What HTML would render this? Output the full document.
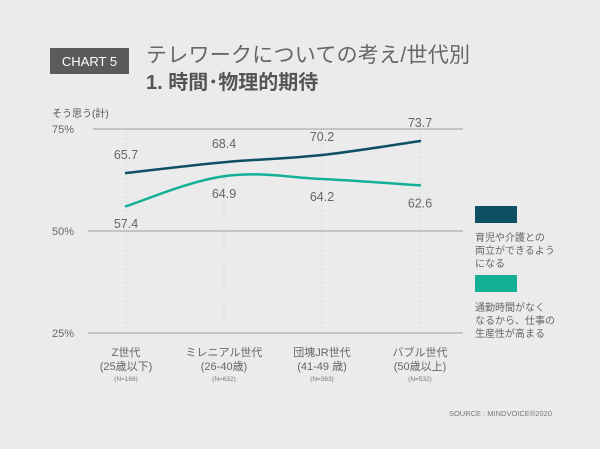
<!DOCTYPE html>
<html><head><meta charset="utf-8"><style>
body{margin:0;background:#ebebeb;}
svg{display:block;font-family:"Liberation Sans","Noto Sans CJK JP",sans-serif;}
</style></head><body>
<svg id="c" width="600" height="449" viewBox="0 0 600 449">
<rect width="600" height="449" fill="#ebebeb"/>
<rect x="50" y="48" width="79" height="26" fill="#5b5b5b"/>
<text x="89.5" y="66" text-anchor="middle" font-size="13" fill="#fff">CHART 5</text>
<text x="146" y="62" font-size="21" fill="#666" textLength="324">テレワークについての考え/世代別</text>
<text x="146" y="89" font-size="20" font-weight="bold" fill="#555">1. 時間･物理的期待</text>
<text x="52" y="117" font-size="10" fill="#555">そう思う(計)</text>
<g id="grid"></g>
<g id="series"></g>
<g id="xlabels"></g>
<rect x="475" y="206" width="42" height="17" fill="#0d4f63"/>
<text font-size="10" fill="#666"><tspan x="475" y="241">育児や介護との</tspan><tspan x="475" y="254">両立ができるよう</tspan><tspan x="475" y="267">になる</tspan></text>
<rect x="475" y="275" width="42" height="17" fill="#13b096"/>
<text font-size="10" fill="#666"><tspan x="475" y="311">通勤時間がなく</tspan><tspan x="475" y="324">なるから、仕事の</tspan><tspan x="475" y="337">生産性が高まる</tspan></text>
<text x="552" y="416" text-anchor="end" font-size="7.5" fill="#777">SOURCE : MINDVOICE®2020</text>
</svg>
<script>
const categories=["Z世代","ミレニアル世代","団塊JR世代","バブル世代"];
const ageRanges=["(25歳以下)","(26-40歳)","(41-49 歳)","(50歳以上)"];
const sampleSizes=["(N=169)","(N=632)","(N=363)","(N=532)"];
const childcareValues=[65.7,68.4,70.2,73.7];
const commuteValues=[57.4,64.9,64.2,62.6];
const yTicks=[75,50,25];
const NS="http://www.w3.org/2000/svg";
function xPos(i){return 126+i*98;}
function yPos(v){return 173+(65.7-v)*4;}
function gridY(t){return 129+(75-t)*4.08;}
function mk(tag,attrs,parent){const e=document.createElementNS(NS,tag);for(const k in attrs)e.setAttribute(k,attrs[k]);parent.appendChild(e);return e;}
const grid=document.getElementById('grid'),ser=document.getElementById('series'),xl=document.getElementById('xlabels');
categories.forEach((c,i)=>{
 const l=mk('line',{x1:xPos(i),x2:xPos(i),y1:129,y2:333,stroke:'#cfcfcf','stroke-dasharray':'1.5,3','stroke-width':1},grid);
 
 
});
yTicks.forEach(t=>{
 const y=gridY(t);
 const l=mk('line',{x1:t===75?93:88,x2:463,y1:y,y2:y,stroke:'#c4c4c4','stroke-width':2},grid);
 
 
 const tx=mk('text',{x:52,y:y+4,'font-size':11,fill:'#666'},grid);tx.textContent=t+'%';
 
 
});
function smooth(pts){let d='M'+pts[0][0]+','+pts[0][1];for(let i=0;i<pts.length-1;i++){const p0=pts[i-1]||pts[i],p1=pts[i],p2=pts[i+1],p3=pts[i+2]||p2;const t=0.18;d+=' C'+(p1[0]+(p2[0]-p0[0])*t)+','+(p1[1]+(p2[1]-p0[1])*t)+' '+(p2[0]-(p3[0]-p1[0])*t)+','+(p2[1]-(p3[1]-p1[1])*t)+' '+p2[0]+','+p2[1];}return d;}
function drawSeries(vals,color,name,off){
 const pts=vals.map((v,i)=>[xPos(i),yPos(v)]);
 const p=mk('path',{d:smooth(pts),fill:'none',stroke:color,'stroke-width':2.5,'stroke-linecap':'round'},ser);
 
 
 vals.forEach((v,i)=>{
  const t=mk('text',{x:xPos(i),y:yPos(v)+off,'text-anchor':'middle','font-size':12.5,fill:'#666'},ser);t.textContent=v.toFixed(1);
  
  
 });
}
drawSeries(childcareValues,'#0d4f63','childcare',-14);
drawSeries(commuteValues,'#13b096','commute',22);
categories.forEach((c,i)=>{
 const a=mk('text',{x:xPos(i),y:356,'text-anchor':'middle','font-size':11,fill:'#666'},xl);a.textContent=c;
 
 
 const b=mk('text',{x:xPos(i),y:370,'text-anchor':'middle','font-size':11,fill:'#666'},xl);b.textContent=ageRanges[i];
 
 
 const n=mk('text',{x:xPos(i),y:381,'text-anchor':'middle','font-size':6.5,fill:'#777'},xl);n.textContent=sampleSizes[i];
 
 
});
</script>
</body></html>
